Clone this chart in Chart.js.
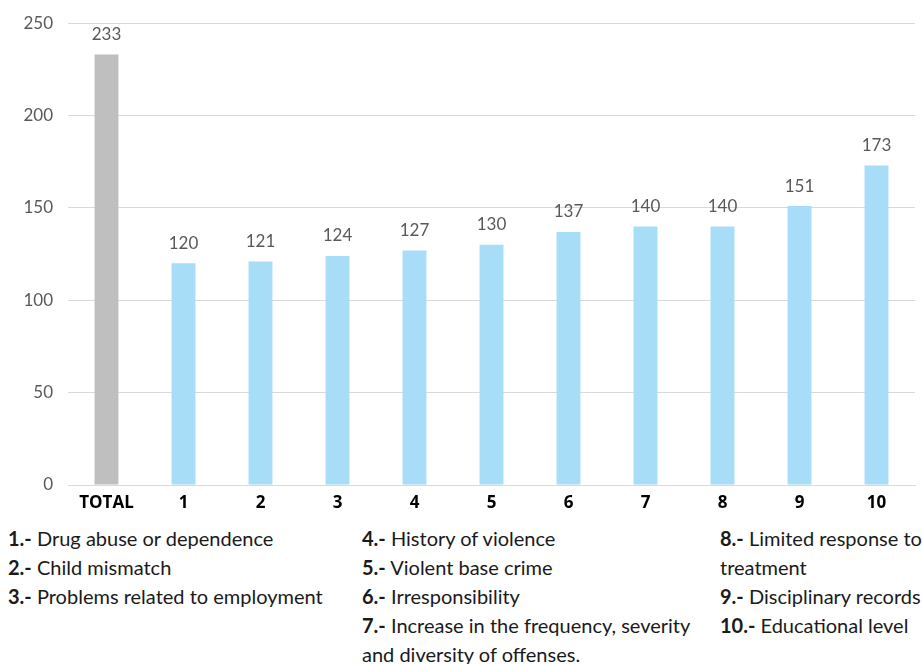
<!DOCTYPE html>
<html lang="en">
<head>
    <meta charset="UTF-8">
    <title>Risk factors</title>
    <script src="https://cdn.jsdelivr.net/npm/chart.js"></script>
    <style>
        body {
            margin: 0;
            padding: 0;
            background: #fff;
            font-family: Lato, "Open Sans", sans-serif;
        }
        .chart-box {
            position: absolute;
            left: 0;
            top: -2px;
            width: 922px;
            height: 517px;
        }
        .notes {
            position: absolute;
            top: 524px;
            left: 0;
            width: 922px;
            font-size: 20px;
            color: #1a1a1a;
        }
        .notes .col {
            position: absolute;
            top: 0;
        }
        .notes div div {
            height: 29px;
            line-height: 29px;
            white-space: nowrap;
        }
        .notes b {
            font-weight: bold;
        }
    </style>
</head>
<body>
    <div class="chart-box">
        <canvas id="riskChart"></canvas>
    </div>

    <div class="notes">
        <div class="col" style="left:8px">
            <div><b>1.-</b> Drug abuse or dependence</div>
            <div><b>2.-</b> Child mismatch</div>
            <div><b>3.-</b> Problems related to employment</div>
        </div>
        <div class="col" style="left:362px">
            <div><b>4.-</b> History of violence</div>
            <div><b>5.-</b> Violent base crime</div>
            <div><b>6.-</b> Irresponsibility</div>
            <div><b>7.-</b> Increase in the frequency, severity</div>
            <div>and diversity of offenses.</div>
        </div>
        <div class="col" style="left:720px">
            <div><b>8.-</b> Limited response to</div>
            <div>treatment</div>
            <div><b>9.-</b> Disciplinary records</div>
            <div><b>10.-</b> Educational level</div>
        </div>
    </div>

    <script>
        const categories = ['TOTAL', '1', '2', '3', '4', '5', '6', '7', '8', '9', '10'];
        const counts = [233, 120, 121, 124, 127, 130, 137, 140, 140, 151, 173];
        const yTicks = [0, 50, 100, 150, 200, 250];

        const barColors = categories.map(c => c === 'TOTAL' ? '#bfbfbf' : '#a7ddf6');

        // value labels over each bar
        const valueLabels = {
            id: 'valueLabels',
            afterDatasetsDraw(chart) {
                const ctx = chart.ctx;
                const meta = chart.getDatasetMeta(0);
                ctx.save();
                ctx.font = '17px Lato, "Open Sans", sans-serif';
                ctx.fillStyle = '#595959';
                ctx.textAlign = 'center';
                ctx.textBaseline = 'middle';
                meta.data.forEach((bar, i) => {
                    ctx.fillText(counts[i], bar.x, bar.y - 20);
                });
                ctx.restore();
            }
        };

        const ctx = document.getElementById('riskChart').getContext('2d');
        new Chart(ctx, {
            type: 'bar',
            data: {
                labels: categories,
                datasets: [{
                    data: counts,
                    backgroundColor: barColors,
                    borderWidth: 0,
                    barPercentage: 0.31,
                    categoryPercentage: 1.0
                }]
            },
            options: {
                responsive: true,
                maintainAspectRatio: false,
                animation: false,
                layout: {
                    padding: { top: 16, right: 7, left: 0, bottom: 0 }
                },
                plugins: {
                    legend: { display: false },
                    tooltip: { enabled: false }
                },
                scales: {
                    x: {
                        grid: { display: false },
                        border: { color: '#d9d9d9', width: 1 },
                        ticks: {
                            color: '#000',
                            font: { family: '"Open Sans", sans-serif', size: 17, weight: 'bold' },
                            padding: 0
                        },
                        afterFit: scale => { scale.height = 30; }
                    },
                    y: {
                        min: 0,
                        max: 250,
                        afterBuildTicks: scale => {
                            scale.ticks = yTicks.map(v => ({ value: v }));
                        },
                        grid: { color: '#d9d9d9', lineWidth: 1, drawTicks: false },
                        border: { display: false },
                        ticks: {
                            color: '#595959',
                            font: { family: 'Lato, "Open Sans", sans-serif', size: 17 },
                            padding: 15
                        },
                        afterFit: scale => { scale.width = 68; }
                    }
                }
            },
            plugins: [valueLabels]
        });
    </script>
</body>
</html>
